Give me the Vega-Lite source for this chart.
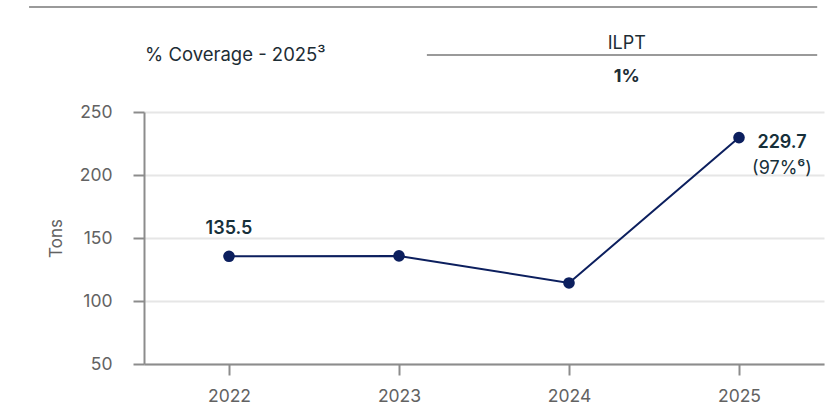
{
  "$schema": "https://vega.github.io/schema/vega-lite/v6.json",
  "width": 680,
  "height": 252,
  "autosize": {"type": "none"},
  "padding": {"left": 144, "top": 112, "right": 7, "bottom": 40},
  "background": "white",
  "config": {"view": {"stroke": null}, "font": "Inter", "text": {"font": "Inter"}},
  "layer": [
    {
      "data": {"values": [
        {"Year": "2022", "Tons": 135.5, "label": "135.5"},
        {"Year": "2023", "Tons": 135.8},
        {"Year": "2024", "Tons": 114.3},
        {"Year": "2025", "Tons": 229.7, "label": "229.7", "note": "(97%⁶)"}
      ]},
      "encoding": {
        "x": {"field": "Year", "type": "ordinal", "scale": {"type": "point", "padding": 0.5},
          "axis": {"title": null, "labelAngle": 0, "labelFont": "Inter", "labelFontSize": 17.5, "labelColor": "#626262", "labelPadding": 12,
            "domainColor": "#8c8c8c", "domainWidth": 2, "tickColor": "#8c8c8c", "tickWidth": 2, "tickSize": 11, "grid": false}},
        "y": {"field": "Tons", "type": "quantitative", "scale": {"domain": [50, 250], "nice": false, "zero": false},
          "axis": {"title": "Tons", "values": [50, 100, 150, 200, 250], "labelFont": "Inter", "labelFontSize": 17.5, "labelColor": "#626262", "labelPadding": 21,
            "titleFont": "Inter", "titleFontSize": 17, "titleFontWeight": "normal", "titleColor": "#626262", "titlePadding": 14,
            "domainColor": "#8c8c8c", "domainWidth": 2, "tickColor": "#8c8c8c", "tickWidth": 2, "tickSize": 11,
            "grid": true, "gridColor": "#e6e6e6", "gridWidth": 2}}
      },
      "layer": [
        {"mark": {"type": "line", "color": "#0c1f5e", "strokeWidth": 2}},
        {"mark": {"type": "point", "filled": true, "opacity": 1, "size": 135, "color": "#0c1f5e"}},
        {"transform": [{"filter": "datum.Year === '2022'"}],
          "mark": {"type": "text", "dy": -27, "fontSize": 18, "fontWeight": 600, "color": "#17303a", "baseline": "middle"},
          "encoding": {"text": {"field": "label"}}},
        {"transform": [{"filter": "datum.Year === '2025'"}],
          "mark": {"type": "text", "dx": 43, "dy": 5, "fontSize": 18, "fontWeight": 600, "color": "#17303a", "baseline": "middle"},
          "encoding": {"text": {"field": "label"}}},
        {"transform": [{"filter": "datum.Year === '2025'"}],
          "mark": {"type": "text", "dx": 43, "dy": 31, "fontSize": 18, "fontWeight": "normal", "color": "#17303a", "baseline": "middle"},
          "encoding": {"text": {"field": "note"}}}
      ]
    },
    {
      "layer": [
        {"data": {"values": [{"label": "% Coverage - 2025³"}]},
          "mark": {"type": "text", "align": "left", "baseline": "middle", "fontSize": 18.5, "color": "#1d2d35"},
          "encoding": {
            "x": {"datum": 0.0015, "type": "quantitative", "scale": {"domain": [0, 1], "nice": false, "zero": false}, "axis": null},
            "y": {"datum": 1.226, "type": "quantitative", "scale": {"domain": [0, 1], "nice": false, "zero": false}, "axis": null},
            "text": {"field": "label"}}},
        {"data": {"values": [{"label": "ILPT"}]},
          "mark": {"type": "text", "align": "center", "baseline": "middle", "fontSize": 18, "color": "#1d2d35"},
          "encoding": {
            "x": {"datum": 0.71, "type": "quantitative"},
            "y": {"datum": 1.27, "type": "quantitative"},
            "text": {"field": "label"}}},
        {"data": {"values": [{"label": "1%"}]},
          "mark": {"type": "text", "align": "center", "baseline": "middle", "fontSize": 18, "fontWeight": 700, "color": "#1d2d35"},
          "encoding": {
            "x": {"datum": 0.71, "type": "quantitative"},
            "y": {"datum": 1.139, "type": "quantitative"},
            "text": {"field": "label"}}},
        {"data": {"values": [{"rule": "top"}]},
          "mark": {"type": "rule", "color": "#9a9a9a", "strokeWidth": 2},
          "encoding": {
            "x": {"datum": -0.169, "type": "quantitative"},
            "x2": {"datum": 0.99},
            "y": {"datum": 1.417, "type": "quantitative"}}},
        {"data": {"values": [{"rule": "ILPT"}]},
          "mark": {"type": "rule", "color": "#9a9a9a", "strokeWidth": 2},
          "encoding": {
            "x": {"datum": 0.416, "type": "quantitative"},
            "x2": {"datum": 0.99},
            "y": {"datum": 1.226, "type": "quantitative"}}}
      ]
    }
  ],
  "resolve": {"scale": {"x": "independent", "y": "independent"}, "axis": {"x": "independent", "y": "independent"}}
}
